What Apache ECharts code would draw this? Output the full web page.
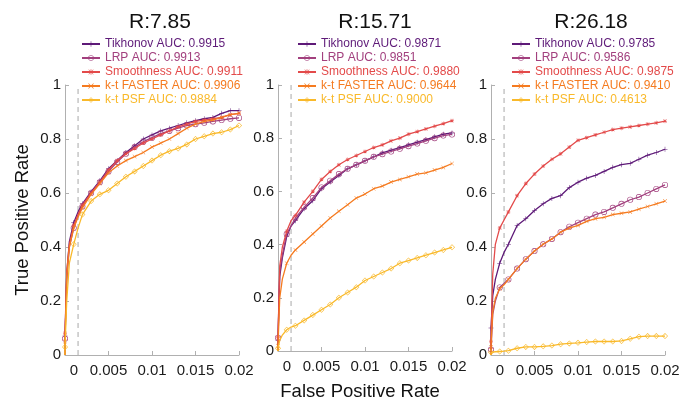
<!DOCTYPE html>
<html>
<head>
<meta charset="utf-8">
<script src="https://cdn.jsdelivr.net/npm/echarts@6/dist/echarts.min.js"></script>
<style>
  html, body { margin: 0; padding: 0; background: #fff; }
  #chart { width: 683px; height: 406px; }
</style>
</head>
<body>
<div id="chart"></div>
<script>
// false positive rate, shared by every curve (first two points: origin then first step at x=0)
var fpr = [0, 0, 0.0002, 0.0005, 0.001, 0.0015, 0.002, 0.003, 0.004, 0.005, 0.006, 0.007,
  0.008, 0.009, 0.01, 0.011, 0.012, 0.013, 0.014, 0.015, 0.016, 0.017, 0.018, 0.019, 0.02];

var panelTitles = ['R:7.85', 'R:15.71', 'R:26.18'];
var methods = ['Tikhonov', 'LRP', 'Smoothness', 'k-t FASTER', 'k-t PSF'];
var auc1 = ['0.9915', '0.9913', '0.9911', '0.9906', '0.9884'];
var auc2 = ['0.9871', '0.9851', '0.9880', '0.9644', '0.9000'];
var auc3 = ['0.9785', '0.9586', '0.9875', '0.9410', '0.4613'];

// R:7.85
var tik1 = [0, 0.07, 0.30, 0.42, 0.49, 0.53, 0.56, 0.605, 0.645, 0.69, 0.72, 0.75, 0.775, 0.80, 0.815, 0.83, 0.84, 0.85, 0.86, 0.868, 0.875, 0.88, 0.895, 0.905, 0.905];
var lrp1 = [0, 0.06, 0.28, 0.40, 0.47, 0.52, 0.55, 0.60, 0.64, 0.68, 0.715, 0.745, 0.77, 0.79, 0.805, 0.82, 0.83, 0.84, 0.85, 0.855, 0.86, 0.865, 0.87, 0.875, 0.878];
var sm1 = [0, 0.08, 0.31, 0.41, 0.48, 0.52, 0.555, 0.60, 0.64, 0.685, 0.72, 0.745, 0.765, 0.785, 0.80, 0.815, 0.83, 0.845, 0.855, 0.865, 0.87, 0.875, 0.88, 0.89, 0.895];
var fst1 = [0, 0.05, 0.29, 0.40, 0.47, 0.51, 0.545, 0.595, 0.635, 0.675, 0.70, 0.72, 0.735, 0.75, 0.77, 0.785, 0.80, 0.82, 0.84, 0.855, 0.865, 0.87, 0.88, 0.89, 0.895];
var psf1 = [0, 0.03, 0.20, 0.34, 0.41, 0.47, 0.52, 0.57, 0.595, 0.61, 0.635, 0.66, 0.68, 0.70, 0.72, 0.74, 0.755, 0.765, 0.78, 0.80, 0.81, 0.82, 0.825, 0.835, 0.85];

// R:15.71
var tik2 = [0, 0.04, 0.28, 0.35, 0.43, 0.47, 0.49, 0.535, 0.565, 0.61, 0.635, 0.66, 0.685, 0.70, 0.715, 0.73, 0.745, 0.755, 0.765, 0.775, 0.785, 0.795, 0.805, 0.815, 0.82];
var lrp2 = [0, 0.05, 0.30, 0.36, 0.44, 0.47, 0.50, 0.54, 0.575, 0.615, 0.64, 0.665, 0.685, 0.70, 0.715, 0.73, 0.74, 0.75, 0.76, 0.77, 0.78, 0.79, 0.80, 0.81, 0.814];
var sm2 = [0, 0.05, 0.32, 0.39, 0.45, 0.49, 0.51, 0.56, 0.60, 0.645, 0.675, 0.70, 0.72, 0.735, 0.75, 0.765, 0.775, 0.79, 0.80, 0.815, 0.825, 0.835, 0.845, 0.855, 0.866];
var fst2 = [0, 0.02, 0.20, 0.27, 0.33, 0.36, 0.38, 0.41, 0.44, 0.47, 0.50, 0.525, 0.55, 0.575, 0.59, 0.61, 0.62, 0.635, 0.645, 0.655, 0.665, 0.67, 0.68, 0.69, 0.705];
var psf2 = [0, 0.01, 0.04, 0.06, 0.08, 0.09, 0.095, 0.115, 0.135, 0.155, 0.175, 0.20, 0.22, 0.24, 0.265, 0.28, 0.295, 0.31, 0.33, 0.34, 0.35, 0.36, 0.37, 0.38, 0.39];

// R:26.18
var tik3 = [0, 0.10, 0.22, 0.28, 0.34, 0.38, 0.41, 0.48, 0.505, 0.535, 0.56, 0.58, 0.59, 0.62, 0.64, 0.655, 0.665, 0.68, 0.695, 0.705, 0.71, 0.725, 0.74, 0.75, 0.762];
var lrp3 = [0, 0.02, 0.15, 0.20, 0.25, 0.265, 0.28, 0.32, 0.355, 0.385, 0.41, 0.43, 0.455, 0.475, 0.49, 0.505, 0.52, 0.53, 0.545, 0.56, 0.575, 0.585, 0.60, 0.615, 0.63];
var sm3 = [0, 0.05, 0.30, 0.41, 0.47, 0.50, 0.53, 0.59, 0.635, 0.67, 0.70, 0.725, 0.745, 0.77, 0.795, 0.805, 0.815, 0.825, 0.835, 0.84, 0.845, 0.85, 0.855, 0.86, 0.866];
var fst3 = [0, 0.03, 0.16, 0.21, 0.245, 0.26, 0.28, 0.32, 0.355, 0.385, 0.41, 0.43, 0.455, 0.47, 0.48, 0.495, 0.505, 0.51, 0.52, 0.525, 0.53, 0.54, 0.55, 0.56, 0.57];
var psf3 = [0, 0.01, 0.01, 0.012, 0.013, 0.014, 0.016, 0.025, 0.03, 0.03, 0.032, 0.035, 0.04, 0.043, 0.045, 0.048, 0.05, 0.05, 0.05, 0.052, 0.06, 0.068, 0.07, 0.07, 0.07];

// vertical dashed reference line
var dashX = [0.0015, 0.0015];
var dashY = [0, 1];

var panels = [
  { aucs: auc1, curves: [tik1, lrp1, sm1, fst1, psf1] },
  { aucs: auc2, curves: [tik2, lrp2, sm2, fst2, psf2] },
  { aucs: auc3, curves: [tik3, lrp3, sm3, fst3, psf3] }
];

var font = '"Liberation Sans", Arial, Helvetica, sans-serif';
var colors = ['#5e1a78', '#a2407e', '#e34a4a', '#f57b20', '#f9b92a'];
// matlab-ish markers: + , o , * , x , diamond (all unfilled)
var symbols = [
  'path://M0,4.5H10V5.5H0Z M4.5,0H5.5V10H4.5Z',
  'path://M0,5A5,5 0 1,0 10,5A5,5 0 1,0 0,5Z M1,5A4,4 0 1,1 9,5A4,4 0 1,1 1,5Z',
  'path://M0,4.4H10V5.6H0Z M4.4,0H5.6V10H4.4Z M1.2,0.4L9.6,8.8L8.8,9.6L0.4,1.2Z M8.8,0.4L9.6,1.2L1.2,9.6L0.4,8.8Z',
  'path://M0.8,0L10,9.2L9.2,10L0,0.8Z M9.2,0L10,0.8L0.8,10L0,9.2Z',
  'path://M5,0L10,5L5,10L0,5Z M5,1.3L1.3,5L5,8.7L8.7,5Z'
];
var symSizes = [5, 6, 4, 4, 6];

var gridLeft = [65, 278, 491];
var titleX = [155, 370, 586];
var legendLeft = [81, 297, 511];

var chart = echarts.init(document.getElementById('chart'));

var grids = [], xAxes = [], yAxes = [], series = [], legends = [], titles = [];

panels.forEach(function (p, k) {
  grids.push({ left: gridLeft[k], top: 85, width: 174, height: 270 });
  titles.push({
    text: panelTitles[k], left: titleX[k], top: 7, textAlign: 'center',
    textStyle: { fontFamily: font, fontSize: 21, fontWeight: 'normal', color: '#111' }
  });
  xAxes.push({
    type: 'value', gridIndex: k, min: 0, max: 0.02, interval: 0.005,
    axisLine: { show: true, lineStyle: { color: '#b0b0b0' } },
    axisTick: { show: true, inside: true, length: 4, lineStyle: { color: '#b0b0b0' } },
    splitLine: { show: false },
    axisLabel: {
      fontFamily: font, fontSize: 15, color: '#1a1a1a', margin: 8,
      formatter: function (v) { return v === 0 ? '{z|0}' : String(v); },
      rich: { z: { fontFamily: font, fontSize: 15, color: '#1a1a1a', padding: [0, 0, 0, 18] } }
    },
    name: k === 1 ? 'False Positive Rate' : '',
    nameLocation: 'middle', nameGap: 31,
    nameTextStyle: { fontFamily: font, fontSize: 18.5, color: '#111', padding: [0, 10, 0, 0] }
  });
  yAxes.push({
    type: 'value', gridIndex: k, min: 0, max: 1, interval: 0.2,
    axisLine: { show: true, lineStyle: { color: '#b0b0b0' } },
    axisTick: { show: true, inside: true, length: 4, lineStyle: { color: '#b0b0b0' } },
    splitLine: { show: false },
    axisLabel: { fontFamily: font, fontSize: 15, color: '#1a1a1a', margin: 4 },
    name: k === 0 ? 'True Positive Rate' : '',
    nameLocation: 'middle', nameRotate: 90, nameGap: 33,
    nameTextStyle: { fontFamily: font, fontSize: 18.5, color: '#111' }
  });

  series.push({
    type: 'line', name: 'ref' + k, xAxisIndex: k, yAxisIndex: k,
    data: dashX.map(function (x, i) { return [x, dashY[i]]; }),
    symbol: 'none', silent: true, z: 2,
    lineStyle: { color: '#a8a8a8', type: [5, 4], width: 1 }
  });

  var names = [];
  p.curves.forEach(function (tpr, m) {
    var name = methods[m] + ' AUC: ' + p.aucs[m];
    names.push({ name: name, textStyle: { color: colors[m] } });
    series.push({
      type: 'line', name: name, xAxisIndex: k, yAxisIndex: k,
      data: fpr.map(function (x, i) {
        var marked = i === 1 || i === 4 || i >= 6;
        return { value: [x, tpr[i]], symbol: marked ? symbols[m] : 'none' };
      }),
      symbol: symbols[m], symbolSize: symSizes[m], showAllSymbol: true,
      lineStyle: { color: colors[m], width: 1.3 },
      itemStyle: { color: colors[m], borderWidth: 0 },
      z: 3 + m
    });
  });

  legends.push({
    left: legendLeft[k], top: 38, padding: 0, orient: 'vertical',
    itemWidth: 18, itemHeight: 7, itemGap: 2, selectedMode: false,
    textStyle: { fontFamily: font, fontSize: 12 },
    data: names
  });
});

chart.setOption({
  animation: false,
  backgroundColor: '#fff',
  title: titles,
  legend: legends,
  grid: grids,
  xAxis: xAxes,
  yAxis: yAxes,
  series: series
});
</script>
</body>
</html>
